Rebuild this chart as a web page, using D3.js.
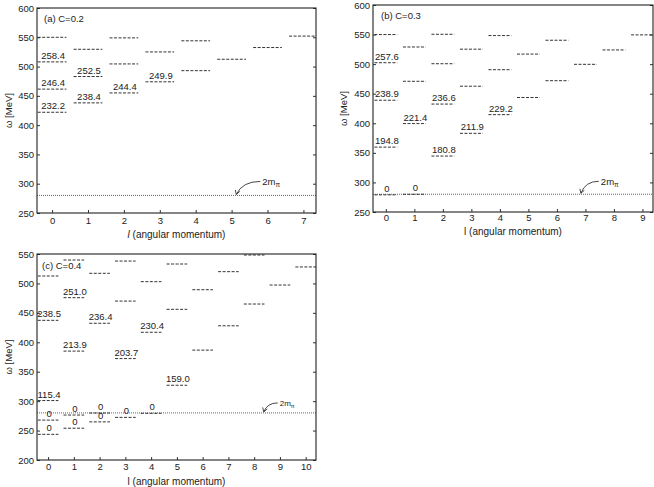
<!DOCTYPE html>
<html><head><meta charset="utf-8">
<script src="https://cdn.jsdelivr.net/npm/d3@7"></script>
<style>
body{margin:0;background:#fff;}
text{font-family:"Liberation Sans",Arial,sans-serif;fill:#222;}
</style></head>
<body><svg id="c" width="654" height="487"></svg>
<script>
// ---- Data: (a) C=0.2 ----
const aL   = [0,0,0,0, 1,1,1, 2,2,2, 3,3, 4,4, 5, 6, 7];
const aE   = [550,508,461.5,422, 529.5,483,438, 549,504.5,455, 525,474, 544,493, 512.5, 532.5, 552];
const aLab = ["","258.4","246.4","232.2", "","252.5","238.4", "","","244.4", "","249.9", "","", "", "", ""];
const aTicksX = [0,1,2,3,4,5,6,7];
// ---- Data: (b) C=0.3 ----
const bL   = [0,0,0,0,0, 1,1,1,1, 2,2,2,2, 3,3,3, 4,4,4, 5,5, 6,6, 7, 8, 9];
const bE   = [550,502.4,439,359.7,279, 529,471,399.5,280, 550.5,500.7,432.5,344.6, 525.3,462.7,383, 548.3,490.6,414.6, 517,443.6, 540.4,472, 499.7, 524, 549.5];
const bLab = ["","257.6","238.9","194.8","0", "","","221.4","0", "","","236.6","180.8", "","","211.9", "","","229.2", "","", "","", "", "", ""];
const bTicksX = [0,1,2,3,4,5,6,7,8,9];
// ---- Data: (c) C=0.4 ----
const cL   = [0,0,0,0,0, 1,1,1,1,1, 2,2,2,2, 3,3,3,3, 4,4,4, 5,5,5, 6,6, 7,7, 8,8, 9, 10];
const cE   = [512.6,437.3,301,267.8,243.6, 539.8,475.8,385,276.4,254, 517.2,432.3,279.8,264.8, 538,470,372.3,272.4, 503,417,279.3, 533,456,327, 489.3,386.7, 520,428, 548.3,465, 497.3, 528];
const cLab = ["","238.5","115.4","0","0", "","251.0","213.9","0","0", "","236.4","0","0", "","","203.7","0", "","230.4","0", "","","159.0", "","", "","", "","", "", ""];
const cTicksX = [0,1,2,3,4,5,6,7,8,9,10];
const yTicksAB = [250,300,350,400,450,500,550,600];
const yTicksC  = [200,250,300,350,400,450,500,550];
const twoMpi = 280;

const svg = d3.select("#c");

function panel(cfg){
  const g = svg.append("g");
  const x = d3.scaleLinear().domain(cfg.xdom).range([cfg.left, cfg.right]);
  const y = d3.scaleLinear().domain(cfg.ydom).range([cfg.bottom, cfg.top]);
  const clipId = "clip"+cfg.id;
  svg.append("clipPath").attr("id",clipId).append("rect")
    .attr("x",cfg.left).attr("y",cfg.top).attr("width",cfg.right-cfg.left).attr("height",cfg.bottom-cfg.top);
  const pg = g.append("g").attr("clip-path","url(#"+clipId+")");
  // threshold line
  pg.append("line").attr("x1",cfg.left).attr("x2",cfg.right)
    .attr("y1",y(twoMpi)).attr("y2",y(twoMpi))
    .attr("stroke","#666").attr("stroke-width",1).attr("stroke-dasharray","1,1");
  // levels
  const data = cfg.L.map((l,i)=>({l:l,e:cfg.E[i],lab:cfg.Lab[i]}));
  pg.selectAll("line.lev").data(data).enter().append("line").attr("class","lev")
    .attr("x1",d=>x(d.l-0.4)).attr("x2",d=>x(d.l+0.4))
    .attr("y1",d=>y(d.e)).attr("y2",d=>y(d.e))
    .attr("stroke","#333").attr("stroke-width",1).attr("stroke-dasharray","3,1.5");
  g.selectAll("text.lab").data(data.filter(d=>d.lab!=="")).enter().append("text").attr("class","lab")
    .attr("x",d=>x(d.l)+1).attr("y",d=>y(d.e)-3).attr("text-anchor","middle")
    .attr("font-size","9.5px").text(d=>d.lab);
  // axes
  const yl = d3.axisLeft(y).tickValues(cfg.yticks).tickSize(-3).tickPadding(3);
  const yr = d3.axisRight(y).tickValues(cfg.yticks).tickSize(-3).tickFormat("");
  const xb = d3.axisBottom(x).tickValues(cfg.xticks).tickSize(-3).tickPadding(cfg.xpad);
  const ga = g.append("g").attr("transform","translate("+cfg.left+",0)").call(yl);
  const gr = g.append("g").attr("transform","translate("+cfg.right+",0)").call(yr);
  const gb = g.append("g").attr("transform","translate(0,"+cfg.bottom+")").call(xb);
  [ga,gr,gb].forEach(a=>{
    a.select(".domain").remove();
    a.selectAll("line").attr("stroke","#333");
    a.selectAll("text").attr("font-size","9.5px").attr("fill","#222").style("font-family",'"Liberation Sans",Arial,sans-serif');
  });
  g.append("rect").attr("x",cfg.left).attr("y",cfg.top).attr("width",cfg.right-cfg.left).attr("height",cfg.bottom-cfg.top)
    .attr("fill","none").attr("stroke","#222").attr("stroke-width",1.1);
  // title
  g.append("text").attr("x",cfg.left+cfg.titleDx).attr("y",cfg.top+cfg.titleDy).attr("font-size","9.5px").text(cfg.title);
  // y label
  g.append("text").attr("transform","translate("+cfg.ylx+","+((cfg.top+cfg.bottom)/2)+") rotate(-90)")
    .attr("text-anchor","middle").attr("font-size","9.5px").text("ω [MeV]");
  // x label
  const xt = g.append("text").attr("x",(cfg.left+cfg.right)/2).attr("y",cfg.bottom+cfg.xlDy)
    .attr("text-anchor","middle").attr("font-size","10px");
  xt.append("tspan").attr("font-style",cfg.italicL?"italic":"normal").text("l");
  xt.append("tspan").text(" (angular momentum)");
  // 2m_pi annotation
  const tipX = x(cfg.arrowL), tipY = y(twoMpi)-1;
  const ex = tipX+cfg.arrW, ey = tipY-cfg.arrH;
  g.append("path").attr("d","M"+ex+","+ey+" Q"+(tipX+cfg.arrW*0.25)+","+(ey)+" "+tipX+","+tipY)
    .attr("fill","none").attr("stroke","#333").attr("stroke-width",0.9);
  g.append("path").attr("d","M"+(tipX-1)+","+(tipY-4.5)+" L"+tipX+","+tipY+" L"+(tipX+3.5)+","+(tipY-3))
    .attr("fill","none").attr("stroke","#333").attr("stroke-width",0.9);
  const mt = g.append("text").attr("x",ex+2).attr("y",ey+3.5).attr("font-size",cfg.mfs+"px");
  mt.append("tspan").text("2m");
  mt.append("tspan").attr("dy",2).attr("font-size",(cfg.mfs*0.7)+"px").text("π");
}

panel({id:"a",L:aL,E:aE,Lab:aLab,xticks:aTicksX,yticks:yTicksAB,
  xdom:[-0.42,7.35],ydom:[250,600],left:37,right:316,top:8,bottom:213,xpad:4,
  title:"(a) C=0.2",titleDx:7,titleDy:14,ylx:12,xlDy:25,italicL:true,
  arrowL:5.13,arrW:24,arrH:13,mfs:9.5});
panel({id:"b",L:bL,E:bE,Lab:bLab,xticks:bTicksX,yticks:yTicksAB,
  xdom:[-0.45,9.37],ydom:[250,600],left:373,right:653,top:5,bottom:212,xpad:2.5,
  title:"(b) C=0.3",titleDx:8,titleDy:14,ylx:347,xlDy:23,italicL:false,
  arrowL:6.84,arrW:18,arrH:12,mfs:9.5});
panel({id:"c",L:cL,E:cE,Lab:cLab,xticks:cTicksX,yticks:yTicksC,
  xdom:[-0.43,10.4],ydom:[200,550],left:37,right:316,top:254,bottom:460,xpad:3,
  title:"(c) C=0.4",titleDx:5,titleDy:15,ylx:12,xlDy:25,italicL:false,
  arrowL:8.37,arrW:14,arrH:9,mfs:8});
</script></body></html>
